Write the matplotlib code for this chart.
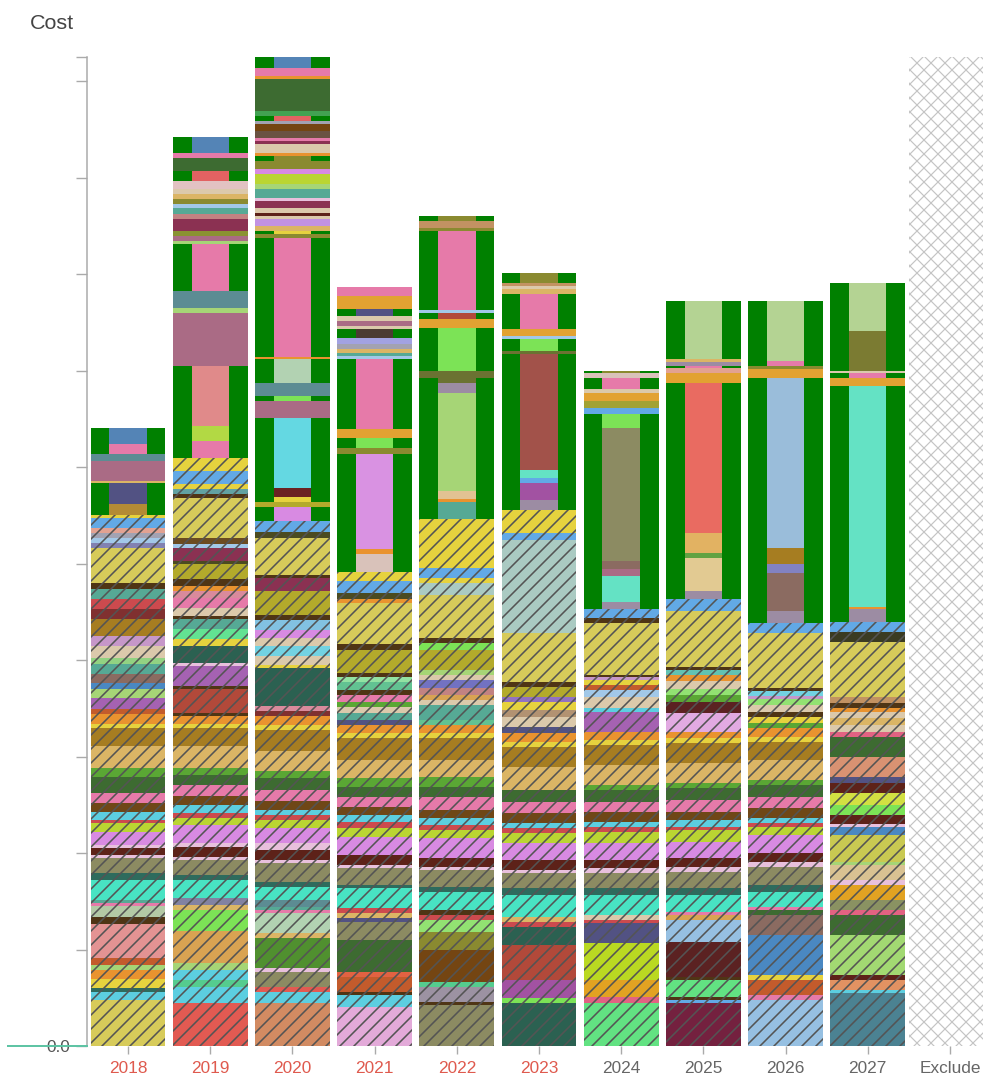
import matplotlib
matplotlib.use("Agg")
import matplotlib.pyplot as plt

plt.rcParams["font.family"] = ["Liberation Sans", "DejaVu Sans"]
plt.rcParams["hatch.linewidth"] = 1.35

# ---- palette -------------------------------------------------------------
KHAKI = "#d7cb5a"; YELLOW = "#e6d23e"; BLUE = "#62a9e6"; CYAN = "#5ccee0"
DKTEAL = "#2e6b5d"; TURQ = "#48e3c3"; OLIVEGREY = "#8c8b62"; LTPINK = "#e8c0dc"
MAROON = "#5d2219"; VIOLET = "#d88ae2"; YGREEN = "#bad532"; RED = "#cc4a4e"
BROWN = "#6f4717"; PINK = "#e67aa9"; DKGREEN = "#3d6b31"; GREEN = "#5aa734"
TAN = "#dbb565"; OCHRE = "#a67d21"; ORANGE = "#e9932f"; BRICK = "#c35b2c"
PURPLE = "#a562b2"; LTGREEN = "#a6d576"; SLATE = "#525283"; TEAL = "#56a995"
BEIGE = "#dbc9ab"; LILAC = "#c697c9"; OLIVEY = "#b3aa2b"; DKBROWN = "#4f3515"
SALMON = "#e39393"; SAGE = "#b3c9a5"; MAUVE = "#aa6b85"; TEALGREY = "#5c8c93"
STEEL = "#5484b6"; GOLD = "#b48b34"; BRIGHTGREEN = "#7ce356"; DKTEALGREEN = "#2b6151"
GREYPURPLE = "#9c8ca3"; AQUA = "#64e2c4"; LTSTEEL = "#96c0e2"; PLUM = "#74213f"
CORAL = "#e25a52"; ROSEBROWN = "#d28b62"; LILACPINK = "#e3aad9"; OLIVE = "#8a8a30"
OLIVEDRAB = "#7b7b32"; SAGELIGHT = "#b4d393"; HUMUS = "#8b6b61"; LEAF = "#50902f"
STEELBLUE2 = "#4a88c2"; SALMONRED = "#e96b61"; BRICKRED = "#b2493a"; PEACH = "#e2a292"
MINT = "#92d282"; DKRED = "#803030"; SLATEPURPLE = "#8282b2"; PALEBLUE = "#a2c8e8"
GREY = "#a2a2b2"; SEAGREEN = "#55cc8e"; SAND = "#d9a352"; LAVGREY = "#8282a2"
MINTGREEN = "#62e292"; DUSTYPINK = "#d98a9c"; DKOLIVE = "#4b4b21"; WINE = "#8b3152"
DKBROWN2 = "#6b4b21"; TEALBLUE = "#62a2a2"; LIME = "#b2d944"; SALMON2 = "#e08a8a"
OLIVE2 = "#8a9232"; ROSE = "#c28282"; BLUSH = "#e2c2c2"; TOMATO = "#e26262"
SAGE2 = "#b2d2b2"; SKY = "#72d2e2"; PALEBLUE2 = "#82c2e2"; OXBLOOD = "#6b2222"
SKY2 = "#64d8e2"; LILAC2 = "#c292e2"; UMBER = "#6b5242"; BROWN2 = "#744512"
MIDGREEN = "#42a252"; REDORANGE = "#e26242"; JADE = "#62c292"; PALEMINT = "#92e2a2"
PINKGREY = "#d9c2ba"; ORCHID = "#d992e2"; AMBER = "#e2a232"; LAVENDER = "#a2a2e2"
DUSK = "#4b3b32"; GREYLILAC = "#9c92a2"; LIMEGREEN = "#92e272"; PERIWINKLE = "#7272c2"
MISTY = "#aacac2"; WHEAT = "#e2c292"; MOSS = "#6b7232"; CAMEL = "#c29262"
PURPLE2 = "#a252a2"; LATTE = "#b29272"; AMETHYST = "#9272c2"; BRICKNARROW = "#a2524a"
MINTGREEN2 = "#62e282"; HOTPINK = "#e26282"; AMBER2 = "#e2a222"; CHARTREUSE = "#bad922"
OLIVE3 = "#a2a232"; MAROON2 = "#5b2222"; LILACPINK2 = "#e2aae2"; TEAL2 = "#62c2b2"
WHEAT2 = "#e2ca92"; GREEN2 = "#62a242"; SAND2 = "#e2b262"; PERIWINKLE2 = "#8282c2"
POWDER = "#9abdda"; STEELTEAL = "#4b8292"; APRICOT = "#e29262"; LTGREEN2 = "#a2d972"
SAGEGREY = "#8a9262"; WHEAT3 = "#d9c292"; MUSTARD = "#c9c952"; LEMONLIME = "#d2e042"
TERRA = "#d99272"; BLACKOLIVE = "#3b3b22"

FRAME_GREEN = "#008000"
HATCH_INK = "#545454"

# segment styles: hatched, full-width solid, narrow solid on a green frame
H, F, N = "h", "f", "n"

# ---- data: stacked cost components per year, bottom to top (value, colour, style)
years = ["2018", "2019", "2020", "2021", "2022", "2023", "2024", "2025", "2026", "2027"]
label_colors = ["#df5a4e"] * 6 + ["#666666"] * 4

SEG_2018 = [
    (47.6, KHAKI, H), (8.3, CYAN, H), (4.1, DKTEAL, H), (9.3, YELLOW, H), (9.3, ORANGE, H),
    (5.2, LTGREEN, H), (7.2, BRICK, H), (35.2, SALMON, H), (7.2, DKBROWN, H), (11.4, SAGE, H),
    (3.1, PINK, H), (3.1, TEAL, H), (20.7, TURQ, H), (7.2, DKTEAL, H), (15.5, OLIVEGREY, H),
    (3.1, LTPINK, H), (7.2, MAROON, H), (3.1, LTPINK, H), (13.5, VIOLET, H), (9.3, YGREEN, H),
    (4.1, RED, H), (8.3, CYAN, H), (9.3, BROWN, H), (10.4, PINK, H), (16.6, DKGREEN, H),
    (8.3, GREEN, H), (23.8, TAN, H), (18.6, OCHRE, H), (4.1, YELLOW, H), (10.4, ORANGE, H),
    (5.2, BRICK, H), (11.4, PURPLE, H), (9.3, LTGREEN, H), (6.2, STEELBLUE2, H), (9.3, HUMUS, H),
    (10.4, TEAL, H), (6.2, MINT, H), (12.4, BEIGE, H), (10.4, LILAC, H), (17.6, OCHRE, H),
    (10.4, DKRED, H), (10.4, RED, H), (10.4, TEAL, H), (6.2, DKBROWN, H), (36.2, KHAKI, H),
    (5.2, SLATEPURPLE, H), (5.2, PALEBLUE, H), (5.2, GREY, H), (5.2, PEACH, H), (10.4, BLUE, H),
    (3.1, YELLOW, H),
    (11.4, GOLD, N), (21.7, SLATE, N), (2.1, TAN, F), (20.7, MAUVE, F), (7.2, TEALGREY, F),
    (10.4, PINK, N), (16.6, STEEL, N),
]

SEG_2019 = [
    (44.5, CORAL, H), (16.6, CYAN, H), (7.2, SEAGREEN, H), (10.4, CYAN, H), (7.2, LTGREEN, H),
    (33.1, SAND, H), (21.7, BRIGHTGREEN, H), (5.2, TAN, H), (7.2, LAVGREY, H), (18.6, TURQ, H),
    (5.2, DKTEAL, H), (15.5, OLIVEGREY, H), (3.1, LTPINK, H), (10.4, MAROON, H), (4.1, LTPINK, H),
    (18.6, VIOLET, H), (7.2, YGREEN, H), (5.2, RED, H), (8.3, CYAN, H), (9.3, BROWN, H),
    (11.4, PINK, H), (10.4, DKGREEN, H), (7.2, GREEN, H), (23.8, TAN, H), (18.6, OCHRE, H),
    (4.1, YELLOW, H), (8.3, ORANGE, H), (3.1, DKBROWN, H), (24.8, BRICKRED, H), (3.1, DKBROWN, H),
    (20.7, PURPLE, H), (3.1, LTPINK, H), (17.6, DKTEALGREEN, H), (7.2, YELLOW, H), (10.4, MINTGREEN, H),
    (10.4, TEAL, H), (3.1, DKBROWN, H), (8.3, BEIGE, H), (10.4, PINK, H), (7.2, DUSTYPINK, H),
    (5.2, ORANGE, H), (7.2, DKBROWN, H), (15.5, OLIVEY, H), (3.1, DKOLIVE, H), (13.5, WINE, H),
    (4.1, PALEBLUE, H), (6.2, DKBROWN2, H), (41.4, KHAKI, H), (4.1, DKBROWN, H), (5.2, TEALBLUE, H),
    (5.2, YELLOW, H), (13.5, BLUE, H), (13.5, YELLOW, H),
    (17.6, PINK, N), (15.5, LIME, N), (62.1, SALMON2, N), (54.9, MAUVE, F), (5.2, LTGREEN, F),
    (17.6, TEALGREY, F), (48.6, PINK, N), (3.1, LTGREEN, F), (5.2, MAUVE, F), (5.2, OLIVE2, F),
    (12.4, WINE, F), (5.2, ROSE, F), (6.2, TEAL, F), (4.1, PALEBLUE, F), (5.2, OLIVE, F),
    (5.2, TAN, F), (5.2, BEIGE, F), (8.3, BLUSH, F), (10.4, TOMATO, N), (13.5, DKGREEN, F),
    (5.2, PINK, F), (16.6, STEEL, N),
]

SEG_2020 = [
    (44.5, ROSEBROWN, H), (11.4, CYAN, H), (5.2, CORAL, H), (15.5, OLIVEGREY, H), (4.1, LTPINK, H),
    (31.1, LEAF, H), (5.2, TAN, H), (20.7, SAGE2, H), (3.1, PINK, H), (3.1, TEAL, H),
    (7.2, TEALGREY, H), (13.5, TURQ, H), (5.2, DKTEAL, H), (19.7, OLIVEGREY, H), (3.1, LTPINK, H),
    (10.4, MAROON, H), (7.2, LTPINK, H), (15.5, VIOLET, H), (8.3, YGREEN, H), (5.2, RED, H),
    (5.2, CYAN, H), (9.3, BROWN, H), (11.4, PINK, H), (12.4, DKGREEN, H), (7.2, GREEN, H),
    (20.7, TAN, H), (21.7, OCHRE, H), (5.2, YELLOW, H), (9.3, ORANGE, H), (5.2, DKRED, H),
    (5.2, DUSTYPINK, H), (39.3, DKTEALGREEN, H), (3.1, YELLOW, H), (9.3, BEIGE, H), (10.4, SKY, H),
    (8.3, BEIGE, H), (8.3, VIOLET, H), (10.4, PALEBLUE2, H), (5.2, DKBROWN, H), (24.8, OLIVEY, H),
    (13.5, WINE, H), (3.1, DKBROWN, H), (39.3, KHAKI, H), (5.2, DKOLIVE, H), (11.4, BLUE, H),
    (14.5, VIOLET, N), (5.2, OLIVEY, F), (5.2, YELLOW, N), (9.3, OXBLOOD, N), (73.5, SKY2, N),
    (17.6, MAUVE, F), (5.2, BRIGHTGREEN, N), (13.5, TEALGREY, F), (24.8, SAGE2, N), (2.1, ORANGE, F),
    (123.2, PINK, N), (4.1, OLIVE, F), (3.1, YELLOW, N), (5.2, TAN, F), (7.2, LILAC2, F),
    (3.1, BEIGE, F), (3.1, MAROON, F), (5.2, BEIGE, F), (7.2, WINE, F), (3.1, LTPINK, F),
    (9.3, TEAL, F), (5.2, LTGREEN, F), (10.4, YGREEN, F), (5.2, VIOLET, F), (8.3, OLIVE, F),
    (5.2, OLIVE, N), (3.1, ORANGE, F), (9.3, BEIGE, F), (3.1, WINE, F), (3.1, PINK, F),
    (7.2, UMBER, F), (7.2, BROWN2, F), (3.1, GREY, F), (5.2, TOMATO, N), (5.2, MIDGREEN, F),
    (33.1, DKGREEN, F), (3.1, ORANGE, F), (8.3, PINK, F), (11.4, STEEL, N),
]

SEG_2021 = [
    (40.4, LILACPINK, H), (12.4, CYAN, H), (3.1, DKBROWN, H), (15.5, BRICK, H), (5.2, REDORANGE, H),
    (33.1, DKGREEN, H), (18.6, OLIVEGREY, H), (4.1, SLATE, H), (5.2, TAN, H), (5.2, RED, H),
    (20.7, TURQ, H), (3.1, DKTEAL, H), (17.6, OLIVEGREY, H), (3.1, LTPINK, H), (10.4, MAROON, H),
    (18.6, VIOLET, H), (9.3, YGREEN, H), (6.2, RED, H), (7.2, CYAN, H), (8.3, BROWN, H),
    (10.4, PINK, H), (10.4, DKGREEN, H), (9.3, GREEN, H), (18.6, TAN, H), (22.8, OCHRE, H),
    (5.2, YELLOW, H), (8.3, ORANGE, H), (5.2, SLATE, H), (7.2, TEAL, H), (6.2, BEIGE, H),
    (5.2, GREEN, H), (7.2, PINK, H), (5.2, DKBROWN, H), (8.3, JADE, H), (5.2, PALEMINT, H),
    (4.1, DKBROWN, H), (23.8, OLIVEY, H), (7.2, DKBROWN, H), (42.4, KHAKI, H), (4.1, ORANGE, H),
    (6.2, DKOLIVE, H), (12.4, BLUE, H), (9.3, YELLOW, H),
    (18.6, PINKGREY, N), (5.2, ORANGE, N), (98.3, ORCHID, N), (6.2, OLIVE, F), (10.4, BRIGHTGREEN, N),
    (9.3, AMBER, F), (72.5, PINK, N), (3.1, PALEBLUE, F), (3.1, TEAL, F), (4.1, TAN, F),
    (5.2, GREY, F), (6.2, LAVENDER, F), (9.3, DUSK, N), (3.1, BEIGE, F), (5.2, MAUVE, F),
    (5.2, BEIGE, F), (7.2, SLATE, N), (13.5, AMBER, F), (9.3, PINK, F),
]

SEG_2022 = [
    (42.4, OLIVEGREY, H), (3.1, DKBROWN, H), (15.5, GREYLILAC, H), (5.2, SEAGREEN, H), (33.1, BROWN2, H),
    (18.6, OLIVE, H), (12.4, LIMEGREEN, H), (5.2, RED, H), (5.2, DKBROWN, H), (18.6, TURQ, H),
    (5.2, DKTEAL, H), (17.6, OLIVEGREY, H), (3.1, LTPINK, H), (9.3, MAROON, H), (20.7, VIOLET, H),
    (8.3, YGREEN, H), (5.2, RED, H), (7.2, CYAN, H), (8.3, BROWN, H), (13.5, PINK, H),
    (10.4, DKGREEN, H), (10.4, GREEN, H), (17.6, TAN, H), (22.8, OCHRE, H), (5.2, YELLOW, H),
    (8.3, ORANGE, H), (5.2, JADE, H), (15.5, TEAL, H), (5.2, BEIGE, H), (5.2, SAND, H),
    (7.2, ROSE, H), (8.3, PERIWINKLE, H), (5.2, BEIGE, H), (5.2, LTGREEN, H), (20.7, OLIVEY, H),
    (7.2, BRIGHTGREEN, H), (5.2, DKBROWN, H), (44.5, KHAKI, H), (12.4, MISTY, H), (5.2, YELLOW, H),
    (10.4, BLUE, H), (50.7, YELLOW, H),
    (17.6, TEAL, N), (4.1, ORANGE, N), (8.3, WHEAT, N), (101.4, LTGREEN, N), (10.4, GREYPURPLE, N),
    (5.2, MOSS, N), (7.2, MOSS, F), (44.5, BRIGHTGREEN, N), (9.3, AMBER, F), (6.2, BRICKRED, N),
    (3.1, PALEBLUE, F), (81.8, PINK, N), (3.1, OLIVE, F), (7.2, CAMEL, F), (5.2, OLIVE, N),
]

SEG_2023 = [
    (44.5, DKTEALGREEN, H), (5.2, BRIGHTGREEN, H), (18.6, PURPLE2, H), (36.2, BRICKRED, H),
    (18.6, DKTEALGREEN, H), (5.2, RED, H), (5.2, TAN, H), (22.8, TURQ, H), (7.2, DKTEAL, H),
    (15.5, OLIVEGREY, H), (3.1, LTPINK, H), (10.4, MAROON, H), (17.6, VIOLET, H), (10.4, YGREEN, H),
    (5.2, RED, H), (5.2, CYAN, H), (10.4, BROWN, H), (11.4, PINK, H), (12.4, DKGREEN, H),
    (23.8, TAN, H), (20.7, OCHRE, H), (5.2, YELLOW, H), (9.3, ORANGE, H), (6.2, SLATE, H),
    (10.4, BEIGE, H), (7.2, LATTE, H), (8.3, YELLOW, H), (5.2, AMETHYST, H), (10.4, OLIVEY, H),
    (5.2, DKBROWN, H), (50.7, KHAKI, H), (96.3, MISTY, H), (7.2, BLUE, H), (23.8, YELLOW, H),
    (10.4, GREYPURPLE, N), (17.6, PURPLE2, N), (5.2, BLUE, N), (8.3, AQUA, N), (121.1, BRICKNARROW, N),
    (3.1, MOSS, F), (12.4, BRIGHTGREEN, N), (3.1, PALEBLUE, F), (7.2, AMBER, F), (36.2, PINK, N),
    (5.2, TAN, F), (3.1, BEIGE, F), (3.1, CAMEL, F), (10.4, OLIVE, N),
]

SEG_2024 = [
    (44.5, MINTGREEN2, H), (6.2, HOTPINK, H), (17.6, AMBER2, H), (38.3, CHARTREUSE, H), (20.7, SLATE, H),
    (3.1, RED, H), (5.2, BEIGE, H), (20.7, TURQ, H), (7.2, DKTEAL, H), (15.5, OLIVEGREY, H),
    (5.2, LTPINK, H), (8.3, MAROON, H), (17.6, VIOLET, H), (11.4, YGREEN, H), (5.2, RED, H),
    (5.2, CYAN, H), (10.4, BROWN, H), (10.4, PINK, H), (12.4, DKGREEN, H), (5.2, GREEN, H),
    (20.7, TAN, H), (20.7, OCHRE, H), (5.2, YELLOW, H), (8.3, ORANGE, H), (20.7, PURPLE, H),
    (4.1, CYAN, H), (11.4, BEIGE, H), (7.2, PALEBLUE, H), (5.2, BRICK, H), (5.2, YELLOW, H),
    (3.1, LILAC, H), (2.1, DKBROWN, H), (53.8, KHAKI, H), (5.2, DKBROWN, H), (9.3, BLUE, H),
    (7.2, GREYPURPLE, N), (27.9, AQUA, N), (7.2, MAUVE, N), (8.3, HUMUS, N), (137.7, OLIVEGREY, N),
    (14.5, BRIGHTGREEN, N), (6.2, BLUE, F), (7.2, OLIVE3, F), (8.3, AMBER, F), (4.1, BEIGE, F),
    (11.4, PINK, N), (5.2, PINKGREY, F), (2.1, OLIVE, N),
]

SEG_2025 = [
    (44.5, PLUM, H), (3.1, BLUE, H), (3.1, DKBROWN, H), (17.6, MINTGREEN2, H), (3.1, DKBROWN, H),
    (36.2, MAROON2, H), (22.8, LTSTEEL, H), (5.2, SAND, H), (3.1, PINK, H), (17.6, TURQ, H),
    (7.2, DKTEAL, H), (16.6, OLIVEGREY, H), (5.2, LTPINK, H), (9.3, MAROON, H), (16.6, VIOLET, H),
    (12.4, YGREEN, H), (3.1, RED, H), (7.2, CYAN, H), (8.3, BROWN, H), (12.4, PINK, H),
    (12.4, DKGREEN, H), (5.2, GREEN, H), (20.7, TAN, H), (20.7, OCHRE, H), (5.2, YELLOW, H),
    (6.2, ORANGE, H), (19.7, LILACPINK2, H), (11.4, MAROON2, H), (7.2, GREEN, H), (7.2, LIMEGREEN, H),
    (8.3, BEIGE, H), (5.2, ORANGE, H), (5.2, TEAL2, H), (3.1, DKBROWN, H), (59.0, KHAKI, H),
    (12.4, BLUE, H),
    (8.3, GREYPURPLE, N), (34.2, WHEAT2, N), (5.2, GREEN2, N), (20.7, SAND2, N), (155.3, SALMONRED, N),
    (10.4, AMBER, F), (5.2, PEACH, F), (2.1, PINK, N), (4.1, GREYPURPLE, F), (3.1, TAN, F),
    (60.0, SAGELIGHT, N),
]

SEG_2026 = [
    (47.6, LTSTEEL, H), (5.2, PINK, H), (15.5, BRICK, H), (5.2, YELLOW, H), (41.4, STEELBLUE2, H),
    (20.7, HUMUS, H), (5.2, DKGREEN, H), (3.1, PINK, H), (15.5, TURQ, H), (7.2, DKTEAL, H),
    (18.6, OLIVEGREY, H), (5.2, LTPINK, H), (9.3, MAROON, H), (18.6, VIOLET, H), (8.3, YGREEN, H),
    (4.1, RED, H), (5.2, CYAN, H), (10.4, BROWN, H), (11.4, PINK, H), (12.4, DKGREEN, H),
    (5.2, GREEN, H), (20.7, TAN, H), (18.6, OCHRE, H), (5.2, YELLOW, H), (9.3, ORANGE, H),
    (5.2, GREEN, H), (6.2, YELLOW, H), (5.2, DKBROWN, H), (7.2, BEIGE, H), (7.2, LIMEGREEN, H),
    (3.1, LILAC, H), (5.2, SKY, H), (3.1, DKBROWN, H), (56.9, KHAKI, H), (10.4, BLUE, H),
    (12.4, GREYPURPLE, N), (39.3, HUMUS, N), (9.3, PERIWINKLE2, N), (16.6, OCHRE, N), (176.0, POWDER, N),
    (9.3, AMBER, F), (3.1, OLIVE, F), (5.2, PINK, N), (62.1, SAGELIGHT, N),
]

SEG_2027 = [
    (54.9, STEELTEAL, H), (3.1, CYAN, H), (10.4, APRICOT, H), (5.2, MAROON, H), (41.4, LTGREEN2, H),
    (20.7, DKGREEN, H), (5.2, HOTPINK, H), (10.4, SAGEGREY, H), (15.5, AMBER2, H), (5.2, LTPINK, H),
    (15.5, WHEAT3, H), (3.1, LTGREEN, H), (27.9, MUSTARD, H), (8.3, STEELBLUE2, H), (3.1, LTPINK, H),
    (9.3, MAROON, H), (10.4, BRIGHTGREEN, H), (12.4, LEMONLIME, H), (10.4, MAROON, H), (6.2, SLATE, H),
    (20.7, TERRA, H), (20.7, DKGREEN, H), (5.2, HOTPINK, H), (7.2, BEIGE, H), (7.2, TAN, H),
    (6.2, BEIGE, H), (4.1, ORANGE, H), (5.2, DKBROWN, H), (6.2, CAMEL, H), (56.9, KHAKI, H),
    (10.4, BLACKOLIVE, H), (10.4, BLUE, H),
    (13.5, GREYPURPLE, N), (2.1, ORANGE, N), (229.8, AQUA, N), (8.3, AMBER, F), (5.2, PINK, N),
    (2.1, BEIGE, F), (41.4, OLIVEDRAB, N), (49.7, SAGELIGHT, N),
]

stacks = [SEG_2018, SEG_2019, SEG_2020, SEG_2021, SEG_2022,
          SEG_2023, SEG_2024, SEG_2025, SEG_2026, SEG_2027]
categories = years + ["Exclude"]
tick_colors = label_colors + ["#666666"]

# ---- figure --------------------------------------------------------------
W, Hpx, DPI = 983, 1078, 84
fig = plt.figure(figsize=((W + 0.01) / DPI, (Hpx + 0.01) / DPI), dpi=DPI)
fig.patch.set_facecolor("white")
ax = fig.add_axes([87 / W, 32 / Hpx, 904 / W, 989 / Hpx])

BAR_W = 0.91
INNER = 0.5

totals = [sum(v for v, _, _ in segs) for segs in stacks]
ymax = max(totals)

for i, segs in enumerate(stacks):
    bottom = 0.0
    hb, hh, hc = [], [], []
    fb, fh, fc = [], [], []
    nb, nh, nc = [], [], []
    for val, col, kind in segs:
        if kind == H:
            hb.append(bottom); hh.append(val); hc.append(col)
        elif kind == F:
            fb.append(bottom); fh.append(val); fc.append(col)
        else:
            nb.append(bottom); nh.append(val); nc.append(col)
        bottom += val
    if hh:
        ax.bar([i] * len(hh), hh, BAR_W, hb, color=hc, hatch="//",
               edgecolor=HATCH_INK, linewidth=0, zorder=2)
    if nh:
        ax.bar([i] * len(nh), nh, BAR_W, nb, color=FRAME_GREEN, linewidth=0, zorder=2)
        ax.bar([i] * len(nh), nh, BAR_W * INNER, nb, color=nc, linewidth=0, zorder=3)
    if fh:
        ax.bar([i] * len(fh), fh, BAR_W, fb, color=fc, linewidth=0, zorder=3)

# excluded column: full-height cross-hatched band
excl = ax.bar(len(years), ymax, 1.0, 0, color="white", hatch="xx",
              edgecolor="#c4c4c4", linewidth=0, zorder=1)
for p in excl:
    if hasattr(p, "set_hatch_linewidth"):
        p.set_hatch_linewidth(1.0)

ax.set_xlim(-0.5, len(categories) - 0.5)
ax.set_ylim(0, ymax)

ax.set_xticks(range(len(categories)))
ax.set_xticklabels(categories, fontsize=14.8)
for lbl, c in zip(ax.get_xticklabels(), tick_colors):
    lbl.set_color(c)

yt = list(range(0, 1001, 100)) + [ymax]
ax.set_yticks(yt)
ax.set_yticklabels(["0.0"] + [""] * (len(yt) - 1), fontsize=14.8, color="#555555")

for side in ("top", "right", "bottom"):
    ax.spines[side].set_visible(False)
ax.spines["left"].set_color("#aaaaaa")
ax.spines["left"].set_linewidth(1.3)
ax.tick_params(axis="y", length=9.4, width=1.2, color="#aaaaaa", pad=5)
ax.tick_params(axis="x", length=6.8, width=1.2, color="#aaaaaa", pad=6)

# baseline marker at zero, running under the axis label
ax.axhline(0, xmin=-79 / 904, xmax=0, color="#5ec4a4", lw=1.7,
           clip_on=False, zorder=10)

fig.text(30 / W, 1 - 29 / Hpx, "Cost", fontsize=18.4, color="#444444",
         ha="left", va="baseline")

fig.savefig("out.png", dpi=DPI, facecolor="white")
